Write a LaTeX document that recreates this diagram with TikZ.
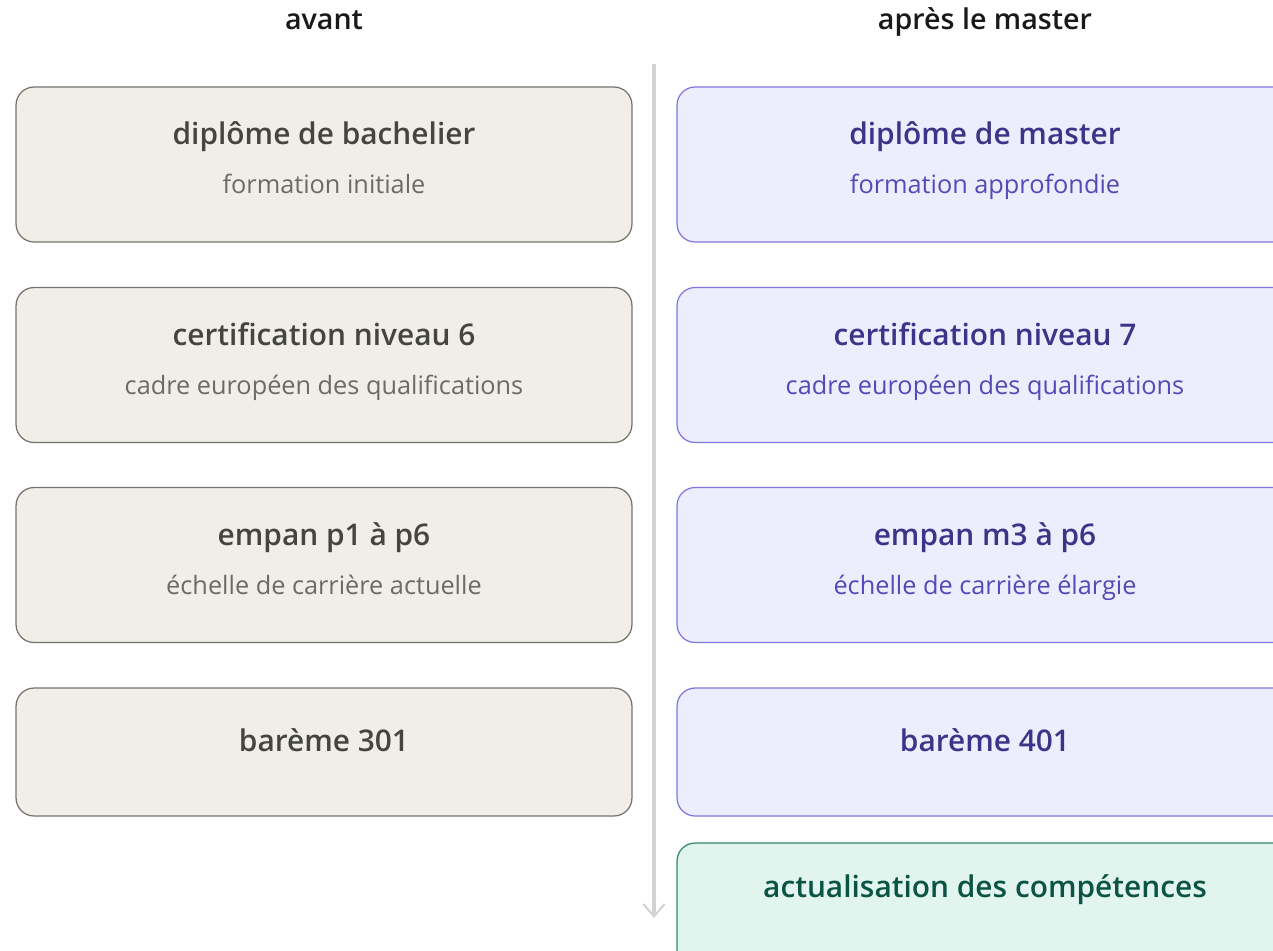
\documentclass[tikz,border=0pt]{standalone}
\usepackage{fontspec}
\IfFontExistsTF{Open Sans Semibold}
  {\setmainfont{Open Sans}[BoldFont={Open Sans Semibold}]}
  {\setmainfont{Open Sans}}
\usepackage{tikz}
\usetikzlibrary{arrows.meta}
\definecolor{grisfond}{HTML}{F1EEE8}
\definecolor{grisbord}{HTML}{73726C}
\definecolor{gristitre}{HTML}{444441}
\definecolor{grissous}{HTML}{6B6A64}
\definecolor{violetfond}{HTML}{EEEDFD}
\definecolor{violetbord}{HTML}{7F77DD}
\definecolor{violettitre}{HTML}{3C3489}
\definecolor{violetsous}{HTML}{534AB7}
\definecolor{vertfond}{HTML}{E1F5EE}
\definecolor{vertbord}{HTML}{2F8A68}
\definecolor{verttitre}{HTML}{0B5443}
\definecolor{axe}{HTML}{D3D3D1}
\tikzset{carte/.style={rounded corners=0.36cm, minimum width=12.32cm, line width=0.7pt, inner sep=0pt}}
\tikzset{avant/.style={carte, draw=grisbord, fill=grisfond}}
\tikzset{apres/.style={carte, draw=violetbord, fill=violetfond}}
\tikzset{maj/.style={carte, draw=vertbord, fill=vertfond}}
\tikzset{entete/.style={anchor=base, text=black!90, font=\fontsize{16.3}{19}\selectfont\bfseries}}
\tikzset{titre/.style={anchor=base, font=\fontsize{17}{20}\selectfont\bfseries}}
\tikzset{sous/.style={anchor=base, font=\fontsize{14.4}{17}\selectfont}}

\begin{document}
\begin{tikzpicture}[x=0.02cm,y=-0.02cm]
        \useasboundingbox (0,0) rectangle (1273,950);
        \clip (0,0) rectangle (1273,950);
        \node[entete] (h-avant) at (324,30) {avant};
        \node[entete] (h-apres) at (985,30) {après le master};
        % axe du temps
        \coordinate (axe-haut) at (654,64);
        \coordinate (axe-bas) at (654,918);
        \draw[axe, line width=1.8pt, -{Straight Barb[length=7pt, width=12pt, line width=1.2pt]}] (axe-haut) -- (axe-bas);
        % colonne avant
        \node[avant, minimum height=3.1cm] (bach) at (324,164.5) {};
        \node[titre, gristitre] (bach-t) at (324,144) {diplôme de bachelier};
        \node[sous, grissous] (bach-s) at (324,193) {formation initiale};
        \node[avant, minimum height=3.1cm] (niv6) at (324,365) {};
        \node[titre, gristitre] (niv6-t) at (324,345) {certification niveau 6};
        \node[sous, grissous] (niv6-s) at (324,394) {cadre européen des qualifications};
        \node[avant, minimum height=3.1cm] (p1p6) at (324,565) {};
        \node[titre, gristitre] (p1p6-t) at (324,545) {empan p1 à p6};
        \node[sous, grissous] (p1p6-s) at (324,594) {échelle de carrière actuelle};
        \node[avant, minimum height=2.56cm] (b301) at (324,752) {};
        \node[titre, gristitre] (b301-t) at (324,751) {barème 301};
        % colonne apres
        \node[apres, minimum height=3.1cm] (mast) at (985,164.5) {};
        \node[titre, violettitre] (mast-t) at (985,144) {diplôme de master};
        \node[sous, violetsous] (mast-s) at (985,193) {formation approfondie};
        \node[apres, minimum height=3.1cm] (niv7) at (985,365) {};
        \node[titre, violettitre] (niv7-t) at (985,345) {certification niveau 7};
        \node[sous, violetsous] (niv7-s) at (985,394) {cadre européen des qualifications};
        \node[apres, minimum height=3.1cm] (m3p6) at (985,565) {};
        \node[titre, violettitre] (m3p6-t) at (985,545) {empan m3 à p6};
        \node[sous, violetsous] (m3p6-s) at (985,594) {échelle de carrière élargie};
        \node[apres, minimum height=2.56cm] (b401) at (985,752) {};
        \node[titre, violettitre] (b401-t) at (985,751) {barème 401};
        \node[maj, minimum height=2.56cm] (actu) at (985,907) {};
        \node[titre, verttitre] (actu-t) at (985,897) {actualisation des compétences};
\end{tikzpicture}
\end{document}
